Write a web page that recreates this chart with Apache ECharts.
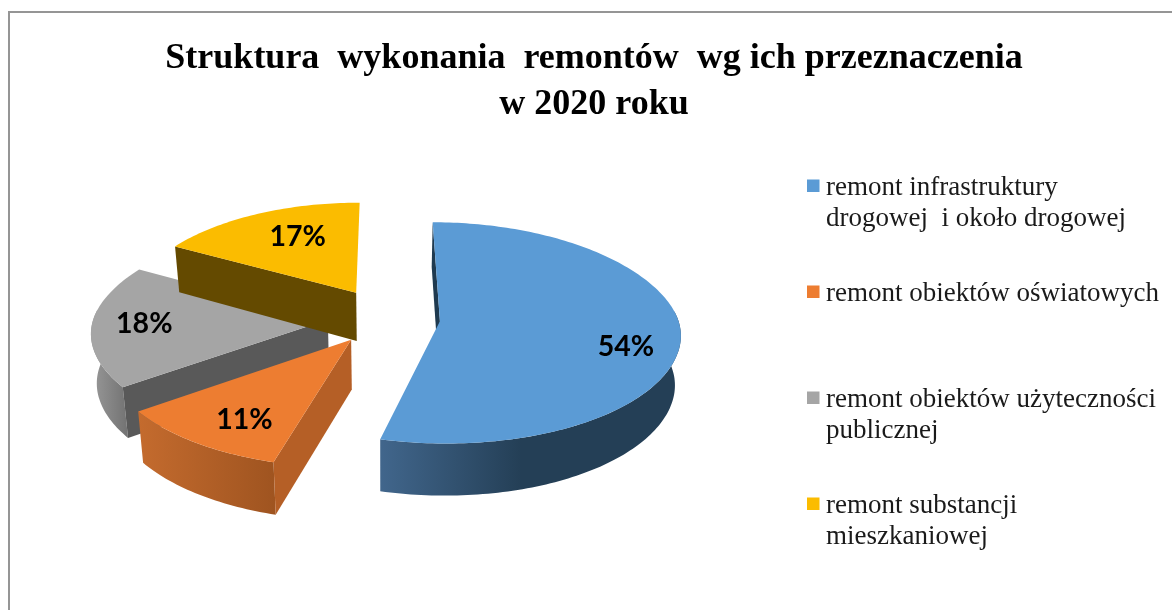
<!DOCTYPE html>
<html>
<head>
<meta charset="utf-8">
<style>
    html, body { margin: 0; padding: 0; background: #fff; }
    #main { width: 1172px; height: 610px; }
</style>
<script src="https://cdn.jsdelivr.net/npm/echarts@6/dist/echarts.min.js"></script>
</head>
<body>
<div id="main"></div>
<script>
// data
const titleText = "Struktura  wykonania  remontów  wg ich przeznaczenia\nw 2020 roku";
const categories = [
    "remont infrastruktury\ndrogowej  i około drogowej",
    "remont obiektów oświatowych",
    "remont obiektów użyteczności\npublicznej",
    "remont substancji\nmieszkaniowej",
];
const values = [54, 11, 18, 17];

// look of each slice, same order as categories
const topColors = ["#5b9bd5", "#ed7d31", "#a5a5a5", "#fbbc00"];
const wallColors = ["#1f3a50", "#b55f26", "#595959", "#644a00"];
const rimStops = [
    [[0, "#41668c"], [0.47, "#243f56"], [1, "#243f56"]],
    [[0, "#c46b2e"], [1, "#9f5420"]],
    [[0, "#999999"], [1, "#727272"]],
    [[0, "#644a00"], [1, "#644a00"]],
];
const paintOrder = [2, 3, 1, 4]; // z of each series, far slices first
const rimScale = [0.995, 1.005, 0.98, 0.96];
const startSkew = [0, 0.025, 0, 0]; // excel's perspective bends the front edge a little
const sliceLift = [0, 0, 0, -3];
const labelNudge = [[5, 15], [7, 5], [-3, -1], [20, 7]];
const legendTops = [169.5, 275.5, 381.5, 487.5];

// fake 3d projection of the exploded pie, the far half is a bit stronger
const cx = 384, cy = 318;
const radius = 239, explode = 0.235, depth = 49, baseShrink = 0.98;

const total = values.reduce((a, b) => a + b, 0);

function project(x, y) {
    const blend = Math.tanh(3 * y);
    const persp = 0.125 - 0.025 * blend;
    const squash = 0.4675 - 0.0075 * blend;
    const s = 1 / (1 - persp * y);
    return [cx + radius * x * s, cy + radius * squash * y * s, s];
}

function lower(p) {
    return [cx + (p[0] - cx) * baseShrink, cy + (p[1] - cy) * baseShrink + depth * p[2]];
}

function sliceElements(i) {
    const before = values.slice(0, i).reduce((a, b) => a + b, 0);
    const a0 = (before / total) * 2 * Math.PI + startSkew[i];
    const a1 = ((before + values[i]) / total) * 2 * Math.PI;
    const mid = (a0 + a1) / 2;
    const ox = explode * Math.sin(mid), oy = -explode * Math.cos(mid);
    const apex = project(ox, oy);
    const r = rimScale[i];

    const arc = (from, to) => {
        const out = [];
        const steps = Math.ceil((to - from) / 0.02);
        for (let k = 0; k <= steps; k++) {
            const a = from + ((to - from) * k) / steps;
            out.push(project(ox + r * Math.sin(a), oy - r * Math.cos(a)));
        }
        return out;
    };
    const rim = arc(a0, a1);
    const xy = (p) => [p[0], p[1]];
    const poly = (points, fill) => ({
        type: "polygon",
        shape: { points: points.map(xy) },
        style: { fill: fill },
    });

    const children = [];
    // only the part of the rim that faces the viewer gets a side
    const from = Math.max(a0, 1.48), to = Math.min(a1, 4.8);
    if (to > from) {
        const front = arc(from, to);
        children.push(poly(front.concat(front.map(lower).reverse()), new echarts.graphic.LinearGradient(
            0, 0, 1, 0, rimStops[i].map((s) => ({ offset: s[0], color: s[1] })))));
    }
    children.push(poly([apex, rim[0], lower(rim[0]), lower(apex)], wallColors[i]));
    children.push(poly([apex].concat(rim), topColors[i]));

    const lp = project(ox + 0.75 * Math.sin(mid), oy - 0.75 * Math.cos(mid));
    children.push({
        type: "text",
        z2: 10,
        style: {
            text: values[i] + "%",
            x: lp[0] + labelNudge[i][0],
            y: lp[1] + labelNudge[i][1],
            align: "center",
            verticalAlign: "middle",
            fontFamily: "Lato",
            fontWeight: "bold",
            fontSize: 28.5,
            fill: "#000",
        },
    });
    return children;
}

const chart = echarts.init(document.getElementById("main"));

var option = {
    animation: false,
    backgroundColor: "#ffffff",
    title: {
        text: titleText,
        left: 589,
        top: 31,
        textAlign: "center",
        textStyle: {
            fontFamily: "Liberation Serif",
            fontWeight: "bold",
            fontSize: 36,
            lineHeight: 46,
            color: "#000",
        },
    },
    // one legend per row: rows are unevenly filled and the marker sits on the first line
    legend: categories.map(function (name, i) {
        const twoLines = name.indexOf("\n") >= 0;
        return {
            data: [name],
            left: 807,
            top: legendTops[i],
            padding: 0,
            itemWidth: 14,
            itemHeight: twoLines ? 62 : 31,
            selectedMode: false,
            icon: "path://M0 0h14v0h-14z M0 7h12.5v12.5h-12.5z M0 " + (twoLines ? 62 : 31) + "h14v0h-14z",
            itemStyle: { color: topColors[i] },
            textStyle: {
                fontFamily: "Liberation Serif",
                fontSize: 27,
                lineHeight: 31,
                padding: [6, 0, 0, 0],
                color: "#1a1a1a",
            },
        };
    }),
    graphic: [
        {
            type: "polyline",
            shape: { points: [[9, 620], [9, 12], [1180, 12]] },
            style: { stroke: "#959595", lineWidth: 2, fill: null },
        },
    ],
    series: categories.map(function (name, i) {
        return {
            type: "custom",
            name: name,
            coordinateSystem: "none",
            z: paintOrder[i],
            silent: true,
            itemStyle: { color: topColors[i] },
            data: [[values[i]]],
            renderItem: function () {
                return { type: "group", y: sliceLift[i], children: sliceElements(i) };
            },
        };
    }),
};

chart.setOption(option);
</script>
</body>
</html>
